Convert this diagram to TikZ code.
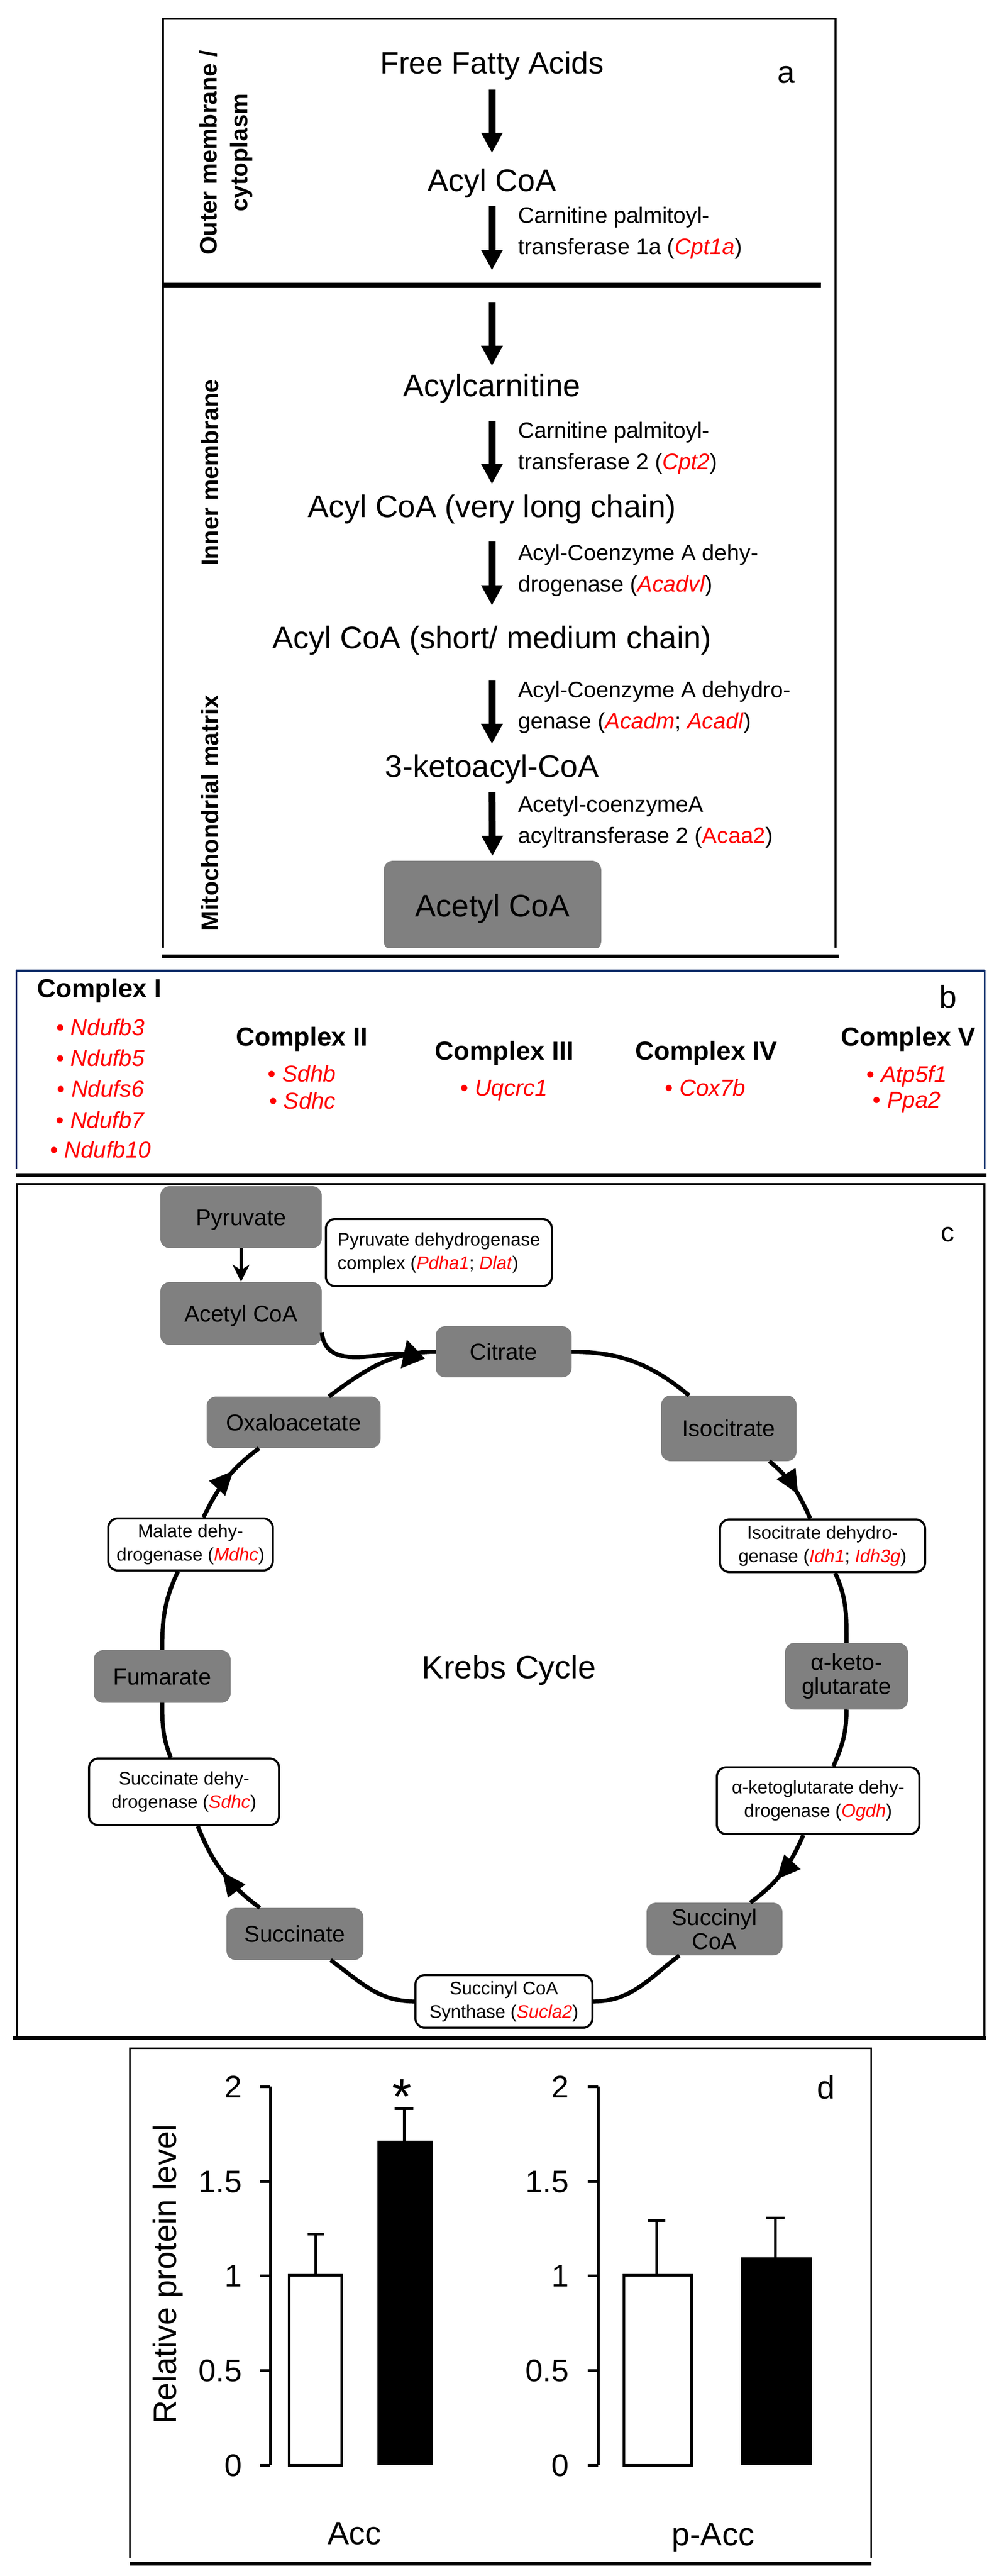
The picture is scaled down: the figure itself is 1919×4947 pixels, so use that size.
\documentclass[tikz,border=0pt]{standalone}
\usepackage{fontspec}
\setmainfont{Liberation Sans}
\usetikzlibrary{arrows.meta,decorations.markings}
\definecolor{boxgray}{RGB}{128,128,128}
\definecolor{navyline}{RGB}{0,32,96}
\definecolor{genered}{RGB}{255,0,0}
\newcommand{\gene}[1]{\textcolor{genered}{\textit{#1}}}
\newcommand{\gup}[1]{\textcolor{genered}{#1}}
\newcommand{\fsz}[2]{\fontsize{#1}{#2}\selectfont}
\begin{document}
\begin{tikzpicture}[x=1pt,y=1pt,
  mainlbl/.style={inner sep=0pt, text height=43.2pt, text depth=12.6pt, font={\fsz{60}{72}}},
  enz/.style={inner sep=0pt, align=left, anchor=west, font={\fsz{43}{60}}},
  bigarrow/.style={line width=13pt, -{Triangle[length=39pt,width=39pt]}},
  rotlbl/.style={rotate=90, inner sep=0pt, font={\bfseries\fsz{46}{59}}, align=center},
  bhead/.style={inner sep=0pt, anchor=base, font={\bfseries\fsz{50}{60}}},
  geneitem/.style={inner sep=0pt, anchor=base, text=genered, font={\fsz{44}{59}}},
  graybox/.style={fill=boxgray, rounded corners=18pt, inner sep=0pt, font={\fsz{44}{46}}},
  grayone/.style={graybox, text height=31.7pt, text depth=0pt},
  labelbox/.style={draw, line width=4pt, fill=white, rounded corners=18pt, inner sep=0pt, align=center, font={\fsz{35}{45}}},
  cyc/.style={line width=8pt},
  midarrow/.style={postaction={decorate}, decoration={markings, mark=at position #1 with {\arrow{Triangle[length=46pt,width=40pt]}}}},
  thinarr/.style={line width=7pt, -{Stealth[length=33pt,width=32pt,inset=10pt]}},
  panellbl/.style={inner sep=0pt, anchor=base, font={\fsz{60}{70}}},
  ticklab/.style={anchor=east, inner sep=0pt, text height=43.2pt, text depth=0pt, font={\fsz{60}{70}}},
  plotlbl/.style={inner sep=0pt, anchor=base, font={\fsz{62}{70}}},
  axisline/.style={line width=5pt}
]
\fill[white] (0,0) rectangle (1919,-4947);
\useasboundingbox (0,0) rectangle (1919,-4947);

%%%%%%%%%%%%%%%% Panel a
\draw[line width=4pt] (313,-1820) -- (313,-36) -- (1605,-36) -- (1605,-1820);
\draw[line width=10pt] (313,-548) -- (1577,-548);
\draw[line width=7pt] (311,-1836) -- (1611,-1836);

\node[mainlbl, anchor=base, font={\fsz{59}{70}}, text height=42.5pt, text depth=12.4pt] (ffa) at (945,-141) {Free Fatty Acids};
\node[mainlbl, anchor=base] (acyl) at (945,-367) {Acyl CoA};
\node[mainlbl, anchor=base] (acylcarn) at (945,-761) {Acylcarnitine};
\node[mainlbl, anchor=base] (vlc) at (945,-993) {Acyl CoA (very long chain)};
\node[mainlbl, anchor=base] (smc) at (945,-1245) {Acyl CoA (short/ medium chain)};
\node[mainlbl, anchor=base] (keto) at (945,-1492) {3-ketoacyl-CoA};
\begin{scope}
\clip (300,-1600) rectangle (1620,-1820);
\node[graybox, text height=43.2pt, text depth=0pt, font={\fsz{60}{70}}, minimum width=418pt, minimum height=172pt] (acetyla) at (946,-1739) {Acetyl CoA};
\end{scope}
\coordinate (m1) at (945,-519);
\coordinate (m2) at (945,-580);

\draw[bigarrow, shorten <=18.6pt, shorten >=29.8pt] (ffa.south) -- (acyl.north);
\draw[bigarrow, shorten <=15.4pt] (acyl.south) -- (m1);
\draw[bigarrow, shorten >=14.8pt] (m2) -- (acylcarn.north);
\draw[bigarrow, shorten <=34.4pt, shorten >=19.8pt] (acylcarn.south) -- (vlc.north);
\draw[bigarrow, shorten <=34.4pt, shorten >=38.8pt] (vlc.south) -- (smc.north);
\draw[bigarrow, shorten <=49.4pt, shorten >=19.8pt] (smc.south) -- (keto.north);
\draw[bigarrow, shorten <=16.4pt, shorten >=9pt] (keto.south) -- (946,-1653);

\node[enz] (e1) at (995,-447) {Carnitine palmitoyl-\\transferase 1a (\gene{Cpt1a})};
\node[enz] (e2) at (995,-860.5) {Carnitine palmitoyl-\\transferase 2 (\gene{Cpt2})};
\node[enz] (e3) at (995,-1095) {Acyl-Coenzyme A dehy-\\drogenase (\gene{Acadvl})};
\node[enz] (e4) at (995,-1358.5) {Acyl-Coenzyme A dehydro-\\genase (\gene{Acadm}; \gene{Acadl})};
\node[enz] (e5) at (995,-1578.5) {Acetyl-coenzymeA\\acyltransferase 2 (\gup{Acaa2})};

\node[rotlbl] (outer) at (434,-293) {Outer membrane /\\cytoplasm};
\node[rotlbl, text height=33.1pt, text depth=0pt] (innerm) at (403,-908) {Inner membrane};
\node[rotlbl, text height=33.1pt, text depth=0pt] (matrix) at (403,-1561) {Mitochondrial matrix};
\node[panellbl] (la) at (1510,-159) {a};

%%%%%%%%%%%%%%%% Panel b
\draw[navyline, line width=3pt] (31,-2245) -- (31,-1864) -- (1891,-1864) -- (1891,-2245);
\draw[navyline, line width=4pt] (31,-1864) -- (1891,-1864);
\draw[line width=7pt] (31,-2256) -- (1895,-2256);
\node[panellbl] (lb) at (1821,-1935) {b};

\node[bhead] (c1) at (191,-1915) {Complex I};
\node[geneitem] (g11) at (193,-1988) {• \textit{Ndufb3}};
\node[geneitem] (g12) at (193,-2047) {• \textit{Ndufb5}};
\node[geneitem] (g13) at (193,-2106) {• \textit{Ndufs6}};
\node[geneitem] (g14) at (193,-2166) {• \textit{Ndufb7}};
\node[geneitem] (g15) at (193,-2223) {• \textit{Ndufb10}};

\node[bhead] (c2) at (580,-2008) {Complex II};
\node[geneitem] (g21) at (580,-2077) {• \textit{Sdhb}};
\node[geneitem] (g22) at (581,-2129) {• \textit{Sdhc}};

\node[bhead] (c3) at (969,-2035) {Complex III};
\node[geneitem] (g31) at (968,-2104) {• \textit{Uqcrc1}};

\node[bhead] (c4) at (1357,-2035) {Complex IV};
\node[geneitem] (g41) at (1355,-2104) {• \textit{Cox7b}};

\node[bhead] (c5) at (1745,-2008) {Complex V};
\node[geneitem] (g51) at (1742,-2078) {• \textit{Atp5f1}};
\node[geneitem] (g52) at (1742,-2127) {• \textit{Ppa2}};

%%%%%%%%%%%%%%%% Panel c
\draw[line width=4pt] (33,-3910) -- (33,-2274) -- (1891,-2274) -- (1891,-3910);
\draw[line width=7pt] (25,-3913) -- (1894,-3913);
\node[inner sep=0pt, anchor=base, font={\fsz{52}{60}}] (lc) at (1820,-2384) {c};

\node[grayone, minimum width=310pt, minimum height=119pt] (pyr) at (463,-2337.5) {Pyruvate};
\node[grayone, minimum width=310pt, minimum height=121pt] (accc) at (463,-2522.5) {Acetyl CoA};
\node[grayone, minimum width=261pt, minimum height=98pt] (cit) at (967.5,-2596) {Citrate};
\node[grayone, minimum width=334pt, minimum height=99pt] (oaa) at (564,-2731.5) {Oxaloacetate};
\node[grayone, minimum width=260pt, minimum height=126pt] (iso) at (1400,-2743) {Isocitrate};
\node[graybox, align=center, minimum width=236pt, minimum height=128pt] (akg) at (1626,-3219) {α-keto-\\glutarate};
\node[grayone, minimum width=263pt, minimum height=101pt] (fum) at (311.5,-3219.5) {Fumarate};
\node[graybox, align=center, minimum width=261pt, minimum height=101pt] (sca) at (1372.5,-3704.5) {Succinyl\\CoA};
\node[grayone, minimum width=263pt, minimum height=100pt] (suc) at (566.5,-3714) {Succinate};

\node[labelbox, align=left, minimum width=434pt, minimum height=129pt] (pdh) at (843,-2405.5) {Pyruvate dehydrogenase\\complex (\gene{Pdha1}; \gene{Dlat})};
\node[labelbox, minimum width=316pt, minimum height=100pt] (mdh) at (366,-2966) {Malate dehy-\\drogenase (\gene{Mdhc})};
\node[labelbox, minimum width=394pt, minimum height=101pt] (idh) at (1580,-2968.5) {Isocitrate dehydro-\\genase (\gene{Idh1}; \gene{Idh3g})};
\node[labelbox, minimum width=389pt, minimum height=128pt] (ogdh) at (1571.5,-3458) {α-ketoglutarate dehy-\\drogenase (\gene{Ogdh})};
\node[labelbox, minimum width=365pt, minimum height=128pt] (sdh) at (353.5,-3441) {Succinate dehy-\\drogenase (\gene{Sdhc})};
\node[labelbox, minimum width=340pt, minimum height=101pt] (scs) at (968,-3843.5) {Succinyl CoA\\Synthase (\gene{Sucla2})};

\node[inner sep=0pt, text height=44.6pt, text depth=0pt, font={\fsz{62}{70}}] (krebs) at (978,-3201) {Krebs Cycle};

\draw[thinarr] (pyr) -- (accc);
\draw[cyc, -{Triangle[length=42pt,width=54pt]}] ([yshift=-36pt]accc.east) to[out=-85, in=168] ([xshift=-20pt,yshift=-13pt]cit.west);

\draw[cyc] (cit) to[out=0, in=140.8] (iso);
\draw[cyc, midarrow=0.62] (iso) to[out=-39.2, in=114.7] (idh);
\draw[cyc] (idh) to[out=-65.3, in=90] (akg);
\draw[cyc] (akg) to[out=-90, in=66.3] (ogdh);
\draw[cyc, midarrow=0.6] (ogdh) to[out=-113.7, in=36.9] (sca);
\draw[cyc] (sca) to[out=-143.1, in=0] (scs);
\draw[cyc] (scs) to[out=180, in=-36.3] (suc);
\draw[cyc, midarrow=0.5] (suc) to[out=143.7, in=-68.3] (sdh);
\draw[cyc] (sdh) to[out=111.7, in=-90] (fum);
\draw[cyc] (fum) to[out=90, in=-115.2] (mdh);
\draw[cyc, midarrow=0.62] (mdh) to[out=64.8, in=-143.5] (oaa);
\draw[cyc] (oaa) to[out=36.5, in=180] (cit);

%%%%%%%%%%%%%%%% Panel d
\draw[line width=3pt] (249,-4912) -- (249,-3933) -- (1673,-3933) -- (1673,-4912);
\draw[line width=7pt] (249,-4923) -- (1674,-4923);
\node[plotlbl] (ld) at (1587,-4030) {d};

% left chart
\draw[axisline] (519,-4007) -- (519,-4734);
\foreach \yy in {4007,4189,4370,4552,4734} \draw[axisline] (499,-\yy) -- (519,-\yy);
\node[ticklab] (tl2) at (465,-4007) {2};
\node[ticklab] (tl15) at (465,-4189) {1.5};
\node[ticklab] (tl1) at (465,-4370) {1};
\node[ticklab] (tl05) at (465,-4552) {0.5};
\node[ticklab] (tl0) at (465,-4734) {0};
\draw[line width=5pt, fill=white] (555,-4734) rectangle (656,-4369);
\draw[line width=5pt] (606,-4369) -- (606,-4290) (591,-4290) -- (623,-4290);
\fill (725,-4734) rectangle (831,-4111);
\draw[line width=5pt] (776,-4111) -- (776,-4049) (758,-4049) -- (794,-4049);
\node[inner sep=0pt, anchor=base, font={\fsz{96}{100}}] (star) at (772,-4059) {*};

% right chart
\draw[axisline] (1149,-4007) -- (1149,-4734);
\foreach \yy in {4007,4189,4370,4552,4734} \draw[axisline] (1129,-\yy) -- (1149,-\yy);
\node[ticklab] (tr2) at (1093,-4007) {2};
\node[ticklab] (tr15) at (1093,-4189) {1.5};
\node[ticklab] (tr1) at (1093,-4370) {1};
\node[ticklab] (tr05) at (1093,-4552) {0.5};
\node[ticklab] (tr0) at (1093,-4734) {0};
\draw[line width=5pt, fill=white] (1198,-4734) rectangle (1328,-4369);
\draw[line width=5pt] (1261,-4369) -- (1261,-4264) (1244,-4264) -- (1278,-4264);
\fill (1423,-4734) rectangle (1560,-4335);
\draw[line width=5pt] (1489,-4335) -- (1489,-4259) (1471,-4259) -- (1507,-4259);

\node[rotate=90, inner sep=0pt, text height=44.6pt, text depth=0pt, font={\fsz{62}{70}}] (ylab) at (316,-4367) {Relative protein level};
\node[plotlbl] (acc) at (681,-4886) {Acc};
\node[plotlbl] (pacc) at (1370,-4888) {p-Acc};
\end{tikzpicture}
\end{document}
